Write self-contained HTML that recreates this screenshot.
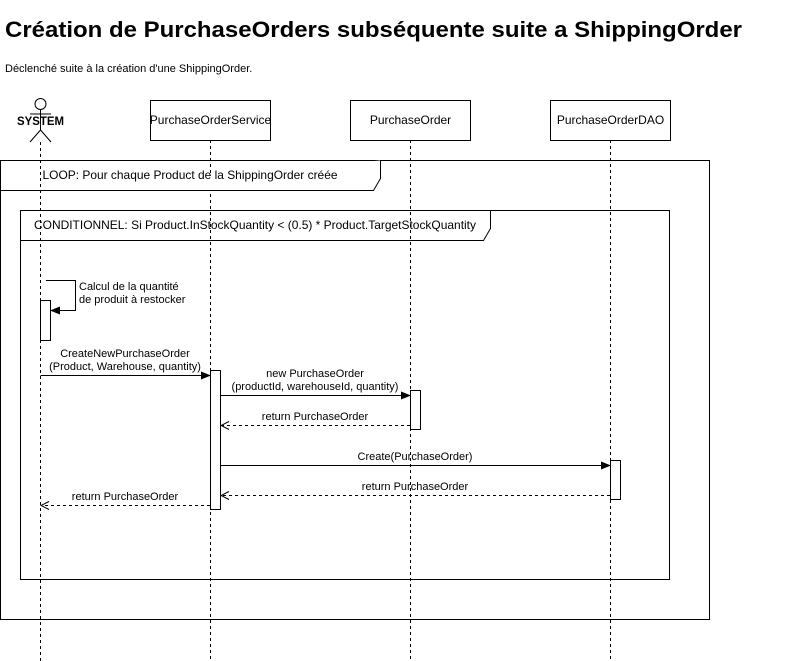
<!DOCTYPE html>
<html><head><meta charset="utf-8"><style>
html,body{margin:0;padding:0;background:#fff;width:791px;height:661px;overflow:hidden}
svg{display:block}
text{font-family:"Liberation Sans",Arial,sans-serif;fill:#000}
</style></head><body>
<svg width="791" height="661" viewBox="0 0 791 661" xmlns="http://www.w3.org/2000/svg">
<defs>
<marker id="f" markerWidth="10" markerHeight="10" refX="9" refY="5" orient="auto" markerUnits="userSpaceOnUse"><path d="M0,1 L10,5 L0,9 Z" fill="#000"/></marker>
<marker id="o" markerWidth="10" markerHeight="10" refX="9" refY="5" orient="auto" markerUnits="userSpaceOnUse"><path d="M1,1 L9,5 L1,9" fill="none" stroke="#000"/></marker>
</defs>
<text x="5" y="37" font-size="22" font-weight="bold" textLength="737" lengthAdjust="spacingAndGlyphs">Création de PurchaseOrders subséquente suite a ShippingOrder</text>
<text x="5" y="72" font-size="11">Déclenché suite à la création d'une ShippingOrder.</text>

<g stroke="#000" stroke-dasharray="3,3" fill="none">
<line x1="40.5" y1="142" x2="40.5" y2="661"/>
<line x1="210.5" y1="140" x2="210.5" y2="661"/>
<line x1="410.5" y1="140" x2="410.5" y2="661"/>
<line x1="610.5" y1="140" x2="610.5" y2="661"/>
</g>

<g stroke="#000" fill="none">
<circle cx="40.5" cy="104" r="5.5" fill="#fff"/>
<line x1="40.5" y1="110" x2="40.5" y2="130"/>
<line x1="30" y1="114" x2="51" y2="114"/>
<line x1="40.5" y1="130" x2="30" y2="142"/>
<line x1="40.5" y1="130" x2="51" y2="142"/>
</g>
<text x="17" y="125" font-size="12" font-weight="bold" textLength="47" lengthAdjust="spacingAndGlyphs">SYSTEM</text>

<g stroke="#000" fill="#fff">
<rect x="150.5" y="100.5" width="120" height="40"/>
<rect x="350.5" y="100.5" width="120" height="40"/>
<rect x="550.5" y="100.5" width="120" height="40"/>
</g>
<g font-size="12" text-anchor="middle">
<text x="210.5" y="124">PurchaseOrderService</text>
<text x="410.5" y="124">PurchaseOrder</text>
<text x="610.5" y="124">PurchaseOrderDAO</text>
</g>

<g stroke="#000" fill="none">
<rect x="0.5" y="160.5" width="709" height="459"/>
<path d="M0.5,190.5 L373.5,190.5 L380.5,178.5 L380.5,160.5" fill="#fff"/>
<rect x="20.5" y="210.5" width="649" height="369"/>
<path d="M20.5,240.5 L483.5,240.5 L490.5,228.5 L490.5,210.5"/>
</g>
<text x="190" y="179" font-size="12" text-anchor="middle" textLength="295" lengthAdjust="spacingAndGlyphs">LOOP: Pour chaque Product de la ShippingOrder créée</text>
<text x="34" y="229" font-size="12" textLength="442" lengthAdjust="spacingAndGlyphs">CONDITIONNEL: Si Product.InStockQuantity &lt; (0.5) * Product.TargetStockQuantity</text>

<rect x="40.5" y="300.5" width="10" height="40" fill="#fff" stroke="#000"/>
<path d="M46,280.5 L75.5,280.5 L75.5,310.5 L51,310.5" fill="none" stroke="#000" marker-end="url(#f)"/>
<text x="79" y="290" font-size="11">Calcul de la quantité</text>
<text x="79" y="303" font-size="11">de produit à restocker</text>

<g stroke="#000" fill="#fff">
<rect x="210.5" y="370.5" width="10" height="139"/>
<rect x="410.5" y="390.5" width="10" height="39"/>
<rect x="610.5" y="460.5" width="10" height="39"/>
</g>

<g stroke="#000" fill="none">
<line x1="40.5" y1="375.5" x2="210" y2="375.5" marker-end="url(#f)"/>
<line x1="220.5" y1="395.5" x2="410" y2="395.5" marker-end="url(#f)"/>
<line x1="410" y1="425.5" x2="221" y2="425.5" stroke-dasharray="3,3" marker-end="url(#o)"/>
<line x1="220.5" y1="465.5" x2="610" y2="465.5" marker-end="url(#f)"/>
<line x1="610" y1="495.5" x2="221" y2="495.5" stroke-dasharray="3,3" marker-end="url(#o)"/>
<line x1="210" y1="505.5" x2="41" y2="505.5" stroke-dasharray="3,3" marker-end="url(#o)"/>
</g>
<g font-size="11" text-anchor="middle">
<text x="125" y="357">CreateNewPurchaseOrder</text>
<text x="125" y="370">(Product, Warehouse, quantity)</text>
<text x="315" y="377">new PurchaseOrder</text>
<text x="315" y="390">(productId, warehouseId, quantity)</text>
<text x="315" y="420">return PurchaseOrder</text>
<text x="415" y="460">Create(PurchaseOrder)</text>
<text x="415" y="490">return PurchaseOrder</text>
<text x="125" y="500">return PurchaseOrder</text>
</g>
</svg>
</body></html>
